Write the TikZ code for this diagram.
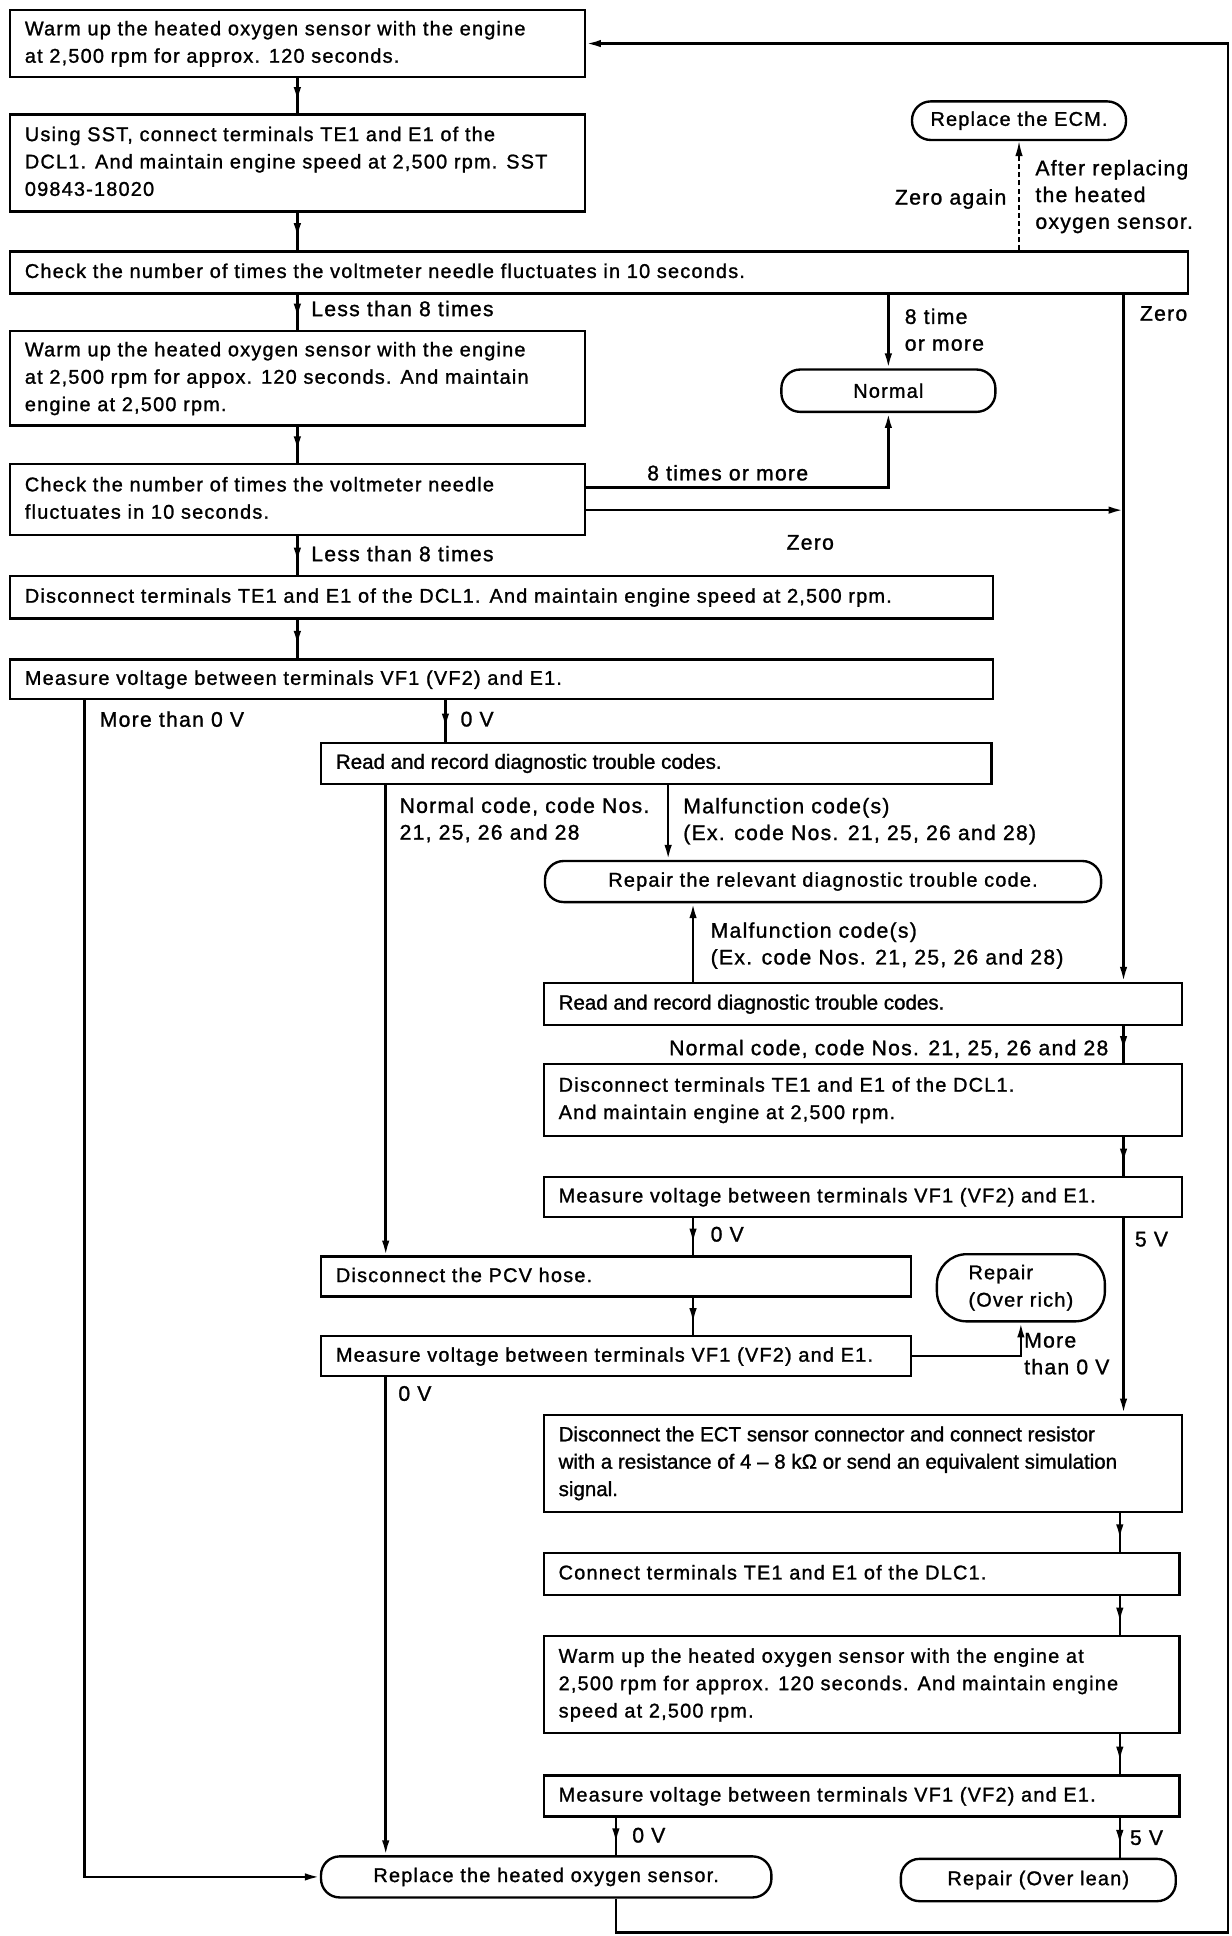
\documentclass[tikz,border=0pt]{standalone}
\usepackage{fontspec}
\setmainfont{Liberation Sans}[LetterSpace=6,FakeBold=1.2]
\newfontfamily\tightfont{Liberation Sans}[FakeBold=1.2]
\usetikzlibrary{arrows.meta,decorations.markings}
\newcommand\boxfont{\fontsize{16}{22}\selectfont}
\newcommand\lblfont{\fontsize{17}{21.5}\selectfont}
\newcommand\tightsz{\tightfont\fontsize{16.5}{22}\selectfont}
\newcommand\plainsz{}
% \bx{name}{x1}{y1}{x2}{y2}{font}{text}
\newcommand\bx[7]{%
  \pgfmathsetmacro\bw{#4-#2}%
  \pgfmathsetmacro\bh{#5-#3}%
  \pgfmathsetmacro\tw{#4-#2-24}%
  \node[box, minimum width=\bw pt, minimum height=\bh pt] (#1) at ({(#2+#4)/2},{(#3+#5)/2})
    {#6\makebox[\tw pt][l]{\begin{tabular}{@{}l@{}}#7\end{tabular}}};}
\tikzset{
  box/.style={draw, line width=1.9pt, inner xsep=12pt, inner ysep=0pt, font=\boxfont},
  term/.style={draw, line width=1.9pt, inner sep=0pt, font=\boxfont, rounded corners=15pt},
  lbl/.style={inner sep=0pt, font=\lblfont, align=left},
  wire/.style={line width=2pt},
  arr/.style={wire, -{Latex[length=12pt,width=6pt]}},
  midarr/.style={wire, postaction={decorate}, decoration={markings, mark=at position #1 with {\arrow{Latex[length=12pt,width=6pt]}}}},
  midarr/.default=0.68,
}
\begin{document}
\begin{tikzpicture}[x=1pt,y=-1pt]
\useasboundingbox (0,0) rectangle (990,1556);
\fill[white] (0,0) rectangle (990,1556);

% rails
\coordinate (zx) at (903,0);
\coordinate (xe) at (900,0);
\coordinate (xa) at (358,0);
\coordinate (xb) at (310,0);
\coordinate (xc) at (537,0);
\coordinate (xd) at (557,0);
\coordinate (xf) at (495,0);
\coordinate (lx) at (68,0);
\coordinate (rb) at (987,1553);

% boxes
\bx{b1}{8}{8}{470}{62}{\plainsz}{Warm up the heated oxygen sensor with the engine\\at 2,500 rpm for approx. 120 seconds.}
\bx{b2}{8}{92}{470}{170}{\plainsz}{Using SST, connect terminals TE1 and E1 of the\\DCL1. And maintain engine speed at 2,500 rpm. SST\\09843-18020}
\bx{b3}{8}{202}{955}{236}{\plainsz}{Check the number of times the voltmeter needle fluctuates in 10 seconds.}
\bx{b4}{8}{266}{470}{342}{\plainsz}{Warm up the heated oxygen sensor with the engine\\at 2,500 rpm for appox. 120 seconds. And maintain\\engine at 2,500 rpm.}
\bx{b5}{8}{373}{470}{430}{\plainsz}{Check the number of times the voltmeter needle\\fluctuates in 10 seconds.}
\bx{b6}{8}{463}{798}{497}{\plainsz}{Disconnect terminals TE1 and E1 of the DCL1. And maintain engine speed at 2,500 rpm.}
\bx{b7}{8}{530}{798}{562}{\plainsz}{Measure voltage between terminals VF1 (VF2) and E1.}
\bx{b8}{258}{597}{797}{630}{\tightsz}{Read and record diagnostic trouble codes.}
\bx{b9}{437}{790}{950}{824}{\tightsz}{Read and record diagnostic trouble codes.}
\bx{b10}{437}{855}{950}{913}{\plainsz}{Disconnect terminals TE1 and E1 of the DCL1.\\And maintain engine at 2,500 rpm.}
\bx{b11}{437}{946}{950}{978}{\plainsz}{Measure voltage between terminals VF1 (VF2) and E1.}
\bx{pcv}{258}{1010}{732}{1042}{\plainsz}{Disconnect the PCV hose.}
\bx{b13}{258}{1074}{732}{1106}{\plainsz}{Measure voltage between terminals VF1 (VF2) and E1.}
\bx{b14}{437}{1137}{950}{1215}{\tightsz}{Disconnect the ECT sensor connector and connect resistor\\with a resistance of 4 – 8 k\symbol{"03A9} or send an equivalent simulation\\signal.}
\bx{b15}{437}{1248}{948}{1282}{\plainsz}{Connect terminals TE1 and E1 of the DLC1.}
\bx{b16}{437}{1315}{948}{1393}{\plainsz}{Warm up the heated oxygen sensor with the engine at\\2,500 rpm for approx. 120 seconds. And maintain engine\\speed at 2,500 rpm.}
\bx{b17}{437}{1427}{948}{1460}{\plainsz}{Measure voltage between terminals VF1 (VF2) and E1.}

% terminals
\node[term, minimum width=172pt, minimum height=31pt] (ecm) at (819,97) {Replace the ECM.};
\node[term, minimum width=172pt, minimum height=34pt] (nor) at (714,314) {Normal};
\node[term, minimum width=447pt, minimum height=33pt] (rdtc) at (661.5,708.5) {Repair the relevant diagnostic trouble code.};
\node[term, minimum width=135pt, minimum height=54pt, rounded corners=24pt, align=left] (rrich) at (820.5,1035) {Repair\\(Over rich)};
\node[term, minimum width=362pt, minimum height=33pt] (ro2) at (439,1508.5) {Replace the heated oxygen sensor.};
\node[term, minimum width=221pt, minimum height=34pt] (rlean) at (834.5,1511) {Repair (Over lean)};

\coordinate (r5) at ([yshift=9.5pt]b5.east);
\coordinate (z5) at ([yshift=-8.5pt]b5.east);

% connectors
\draw[midarr] (b1.south) -- (b2.north);
\draw[midarr] (b2.south) -- (b2.south |- b3.north);
\draw[midarr] (b4.north |- b3.south) -- (b4.north);
\draw[arr] (nor.north |- b3.south) -- (nor.north);
\draw[wire, -{Latex[length=12pt,width=6pt]}, dash pattern=on 4pt off 2.5pt, line width=1.3pt] (ecm.south |- b3.north) -- (ecm.south);
\draw[arr] (zx |- b3.south) -- (zx |- b9.north);
\draw[midarr] (b4.south) -- (b5.north);
\draw[arr] (r5) -| (nor.south);
\draw[arr] (z5) -- (z5 -| zx);
\draw[midarr] (b5.south) -- (b5.south |- b6.north);
\draw[midarr] (b5.south |- b6.south) -- (b5.south |- b7.north);
\draw[arr] (lx |- b7.south) |- (ro2.west);
\draw[midarr] (xa |- b7.south) -- (xa |- b8.north);
\draw[arr] (xb |- b8.south) -- (xb |- pcv.north);
\draw[arr] (xc |- b8.south) -- (xc |- rdtc.north);
\draw[arr] (xd |- b9.north) -- (xd |- rdtc.south);
\draw[midarr] (zx |- b9.south) -- (zx |- b10.north);
\draw[midarr] (zx |- b10.south) -- (zx |- b11.north);
\draw[midarr] (xd |- b11.south) -- (xd |- pcv.north);
\draw[arr] (zx |- b11.south) -- (zx |- b14.north);
\draw[midarr] (xd |- pcv.south) -- (xd |- b13.north);
\draw[arr] (b13.east) -| (rrich.south);
\draw[arr] (xb |- b13.south) -- (xb |- ro2.north);
\draw[midarr] (xe |- b14.south) -- (xe |- b15.north);
\draw[midarr] (xe |- b15.south) -- (xe |- b16.north);
\draw[midarr] (xe |- b16.south) -- (xe |- b17.north);
\draw[midarr] (xf |- b17.south) -- (xf |- ro2.north);
\draw[midarr] (xe |- b17.south) -- (xe |- rlean.north);
\draw[arr] (xf |- ro2.south) |- (rb) |- (b1.east);

% labels
\node[lbl, anchor=east] (l1) at (809,160) {Zero again};
\node[lbl, anchor=west] (l2) at (832,158) {After replacing\\the heated\\oxygen sensor.};
\node[lbl, anchor=west] (l3) at (250,248) {Less than 8 times};
\node[lbl, anchor=west] (l4) at (727,265) {8 time\\or more};
\node[lbl, anchor=west] (l5) at (916,252) {Zero};
\node[lbl, anchor=west] (l6) at (520,380) {8 times or more};
\node[lbl, anchor=west] (l7) at (632,436) {Zero};
\node[lbl, anchor=west] (l8) at (250,445) {Less than 8 times};
\node[lbl, anchor=west] (l9) at (80,578) {More than 0 V};
\node[lbl, anchor=west] (l10) at (370,578) {0 V};
\node[lbl, anchor=west] (l11) at (321,659) {Normal code, code Nos.\\21, 25, 26 and 28};
\node[lbl, anchor=west] (l12) at (549,660) {Malfunction code(s)\\(Ex. code Nos. 21, 25, 26 and 28)};
\node[lbl, anchor=west] (l13) at (571,760) {Malfunction code(s)\\(Ex. code Nos. 21, 25, 26 and 28)};
\node[lbl, anchor=east] (l14) at (891,843) {Normal code, code Nos. 21, 25, 26 and 28};
\node[lbl, anchor=west] (l15) at (571,992) {0 V};
\node[lbl, anchor=west] (l16) at (912,996) {5 V};
\node[lbl, anchor=west] (l17) at (823,1088) {More\\than 0 V};
\node[lbl, anchor=west] (l18) at (320,1120) {0 V};
\node[lbl, anchor=west] (l19) at (508,1475) {0 V};
\node[lbl, anchor=west] (l20) at (908,1477) {5 V};
\end{tikzpicture}
\end{document}
